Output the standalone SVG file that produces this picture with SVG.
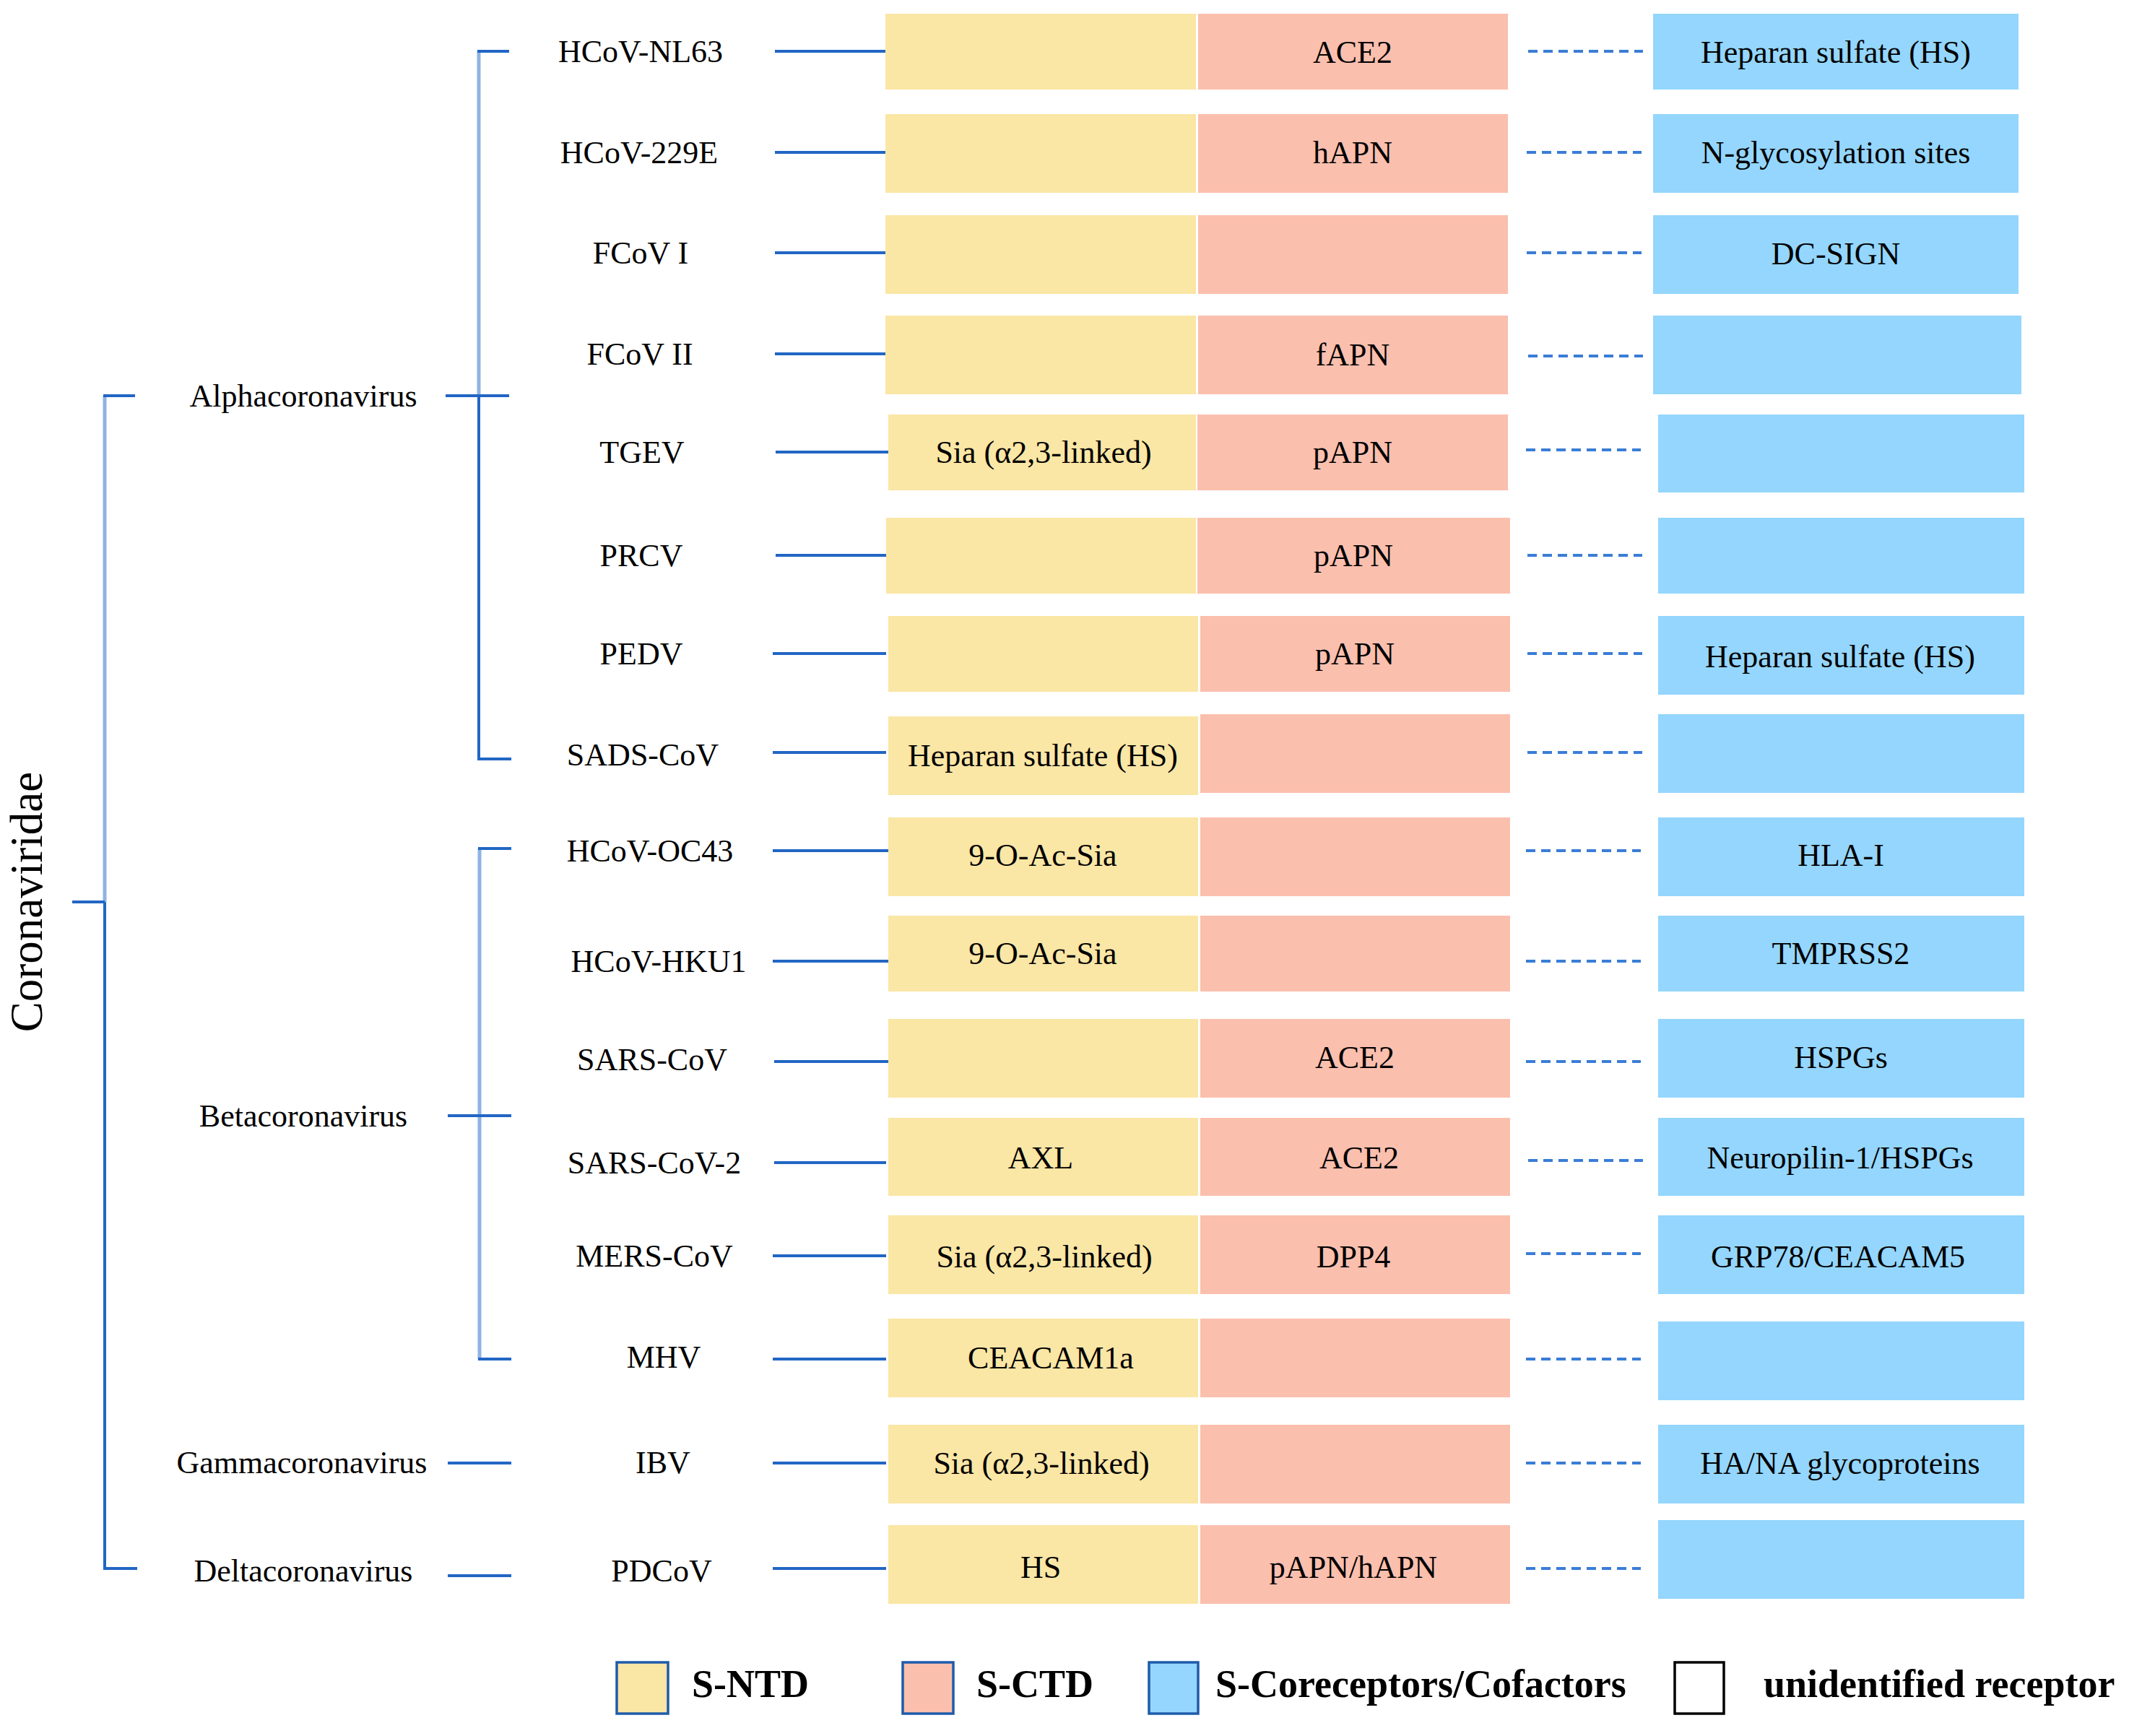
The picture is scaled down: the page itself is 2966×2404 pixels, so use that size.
<svg xmlns="http://www.w3.org/2000/svg" width="2966" height="2404" viewBox="0 0 2966 2404">
<style>
text{font-family:'Liberation Serif','Times New Roman',serif;fill:#000}
.lbl{font-size:44px;text-anchor:middle}
.leg{font-size:54px;font-weight:bold}
.ntd{fill:#FAE6A5}
.ctd{fill:#FBBFAE}
.co{fill:#94D6FD}
.ln{stroke:#2266C4;stroke-width:4;fill:none}
.lt{stroke:#8FB3E2;stroke-width:5;fill:none}
.dot{stroke:#3A7DD6;stroke-width:4;stroke-dasharray:13 8;fill:none}
</style>
<rect width="2966" height="2404" fill="#fff"/>

<g id="connectors">
  <!-- Coronaviridae bracket -->
  <line class="lt" x1="145" y1="548" x2="145" y2="1249"/>
  <line class="ln" x1="145" y1="1249" x2="145" y2="2172"/>
  <line class="ln" x1="100" y1="1249" x2="145" y2="1249"/>
  <line class="ln" x1="143" y1="548" x2="187" y2="548"/>
  <line class="ln" x1="143" y1="2172" x2="190" y2="2172"/>
  <!-- Alpha bracket -->
  <line class="lt" x1="663" y1="71" x2="663" y2="548"/>
  <line class="ln" x1="663" y1="548" x2="663" y2="1051"/>
  <line class="ln" x1="661" y1="71" x2="705" y2="71"/>
  <line class="ln" x1="617" y1="548" x2="705" y2="548"/>
  <line class="ln" x1="661" y1="1051" x2="708" y2="1051"/>
  <!-- Beta bracket -->
  <line class="lt" x1="664" y1="1175" x2="664" y2="1882"/>
  <line class="ln" x1="662" y1="1175" x2="708" y2="1175"/>
  <line class="ln" x1="620" y1="1545" x2="708" y2="1545"/>
  <line class="ln" x1="662" y1="1882" x2="708" y2="1882"/>
  <!-- Gamma / Delta -->
  <line class="ln" x1="620" y1="2026" x2="708" y2="2026"/>
  <line class="ln" x1="620" y1="2182" x2="708" y2="2182"/>
  <!-- species to domain lines -->
  <line class="ln" x1="1073" y1="71" x2="1226" y2="71"/>
  <line class="ln" x1="1073" y1="211" x2="1226" y2="211"/>
  <line class="ln" x1="1073" y1="350" x2="1226" y2="350"/>
  <line class="ln" x1="1073" y1="490" x2="1226" y2="490"/>
  <line class="ln" x1="1074" y1="626" x2="1230" y2="626"/>
  <line class="ln" x1="1074" y1="769" x2="1227" y2="769"/>
  <line class="ln" x1="1070" y1="905" x2="1227" y2="905"/>
  <line class="ln" x1="1070" y1="1042" x2="1227" y2="1042"/>
  <line class="ln" x1="1070" y1="1178" x2="1230" y2="1178"/>
  <line class="ln" x1="1070" y1="1331" x2="1230" y2="1331"/>
  <line class="ln" x1="1072" y1="1470" x2="1230" y2="1470"/>
  <line class="ln" x1="1072" y1="1610" x2="1227" y2="1610"/>
  <line class="ln" x1="1070" y1="1739" x2="1227" y2="1739"/>
  <line class="ln" x1="1070" y1="1882" x2="1227" y2="1882"/>
  <line class="ln" x1="1070" y1="2026" x2="1227" y2="2026"/>
  <line class="ln" x1="1070" y1="2172" x2="1227" y2="2172"/>
  <!-- dotted lines to coreceptors -->
  <line class="dot" x1="2116" y1="71" x2="2275" y2="71"/>
  <line class="dot" x1="2114" y1="211" x2="2273" y2="211"/>
  <line class="dot" x1="2114" y1="350" x2="2273" y2="350"/>
  <line class="dot" x1="2116" y1="493" x2="2275" y2="493"/>
  <line class="dot" x1="2113" y1="623" x2="2272" y2="623"/>
  <line class="dot" x1="2115" y1="769" x2="2274" y2="769"/>
  <line class="dot" x1="2115" y1="905" x2="2274" y2="905"/>
  <line class="dot" x1="2115" y1="1042" x2="2274" y2="1042"/>
  <line class="dot" x1="2113" y1="1178" x2="2272" y2="1178"/>
  <line class="dot" x1="2113" y1="1331" x2="2272" y2="1331"/>
  <line class="dot" x1="2113" y1="1470" x2="2272" y2="1470"/>
  <line class="dot" x1="2116" y1="1607" x2="2275" y2="1607"/>
  <line class="dot" x1="2113" y1="1736" x2="2272" y2="1736"/>
  <line class="dot" x1="2113" y1="1882" x2="2272" y2="1882"/>
  <line class="dot" x1="2113" y1="2026" x2="2272" y2="2026"/>
  <line class="dot" x1="2113" y1="2172" x2="2272" y2="2172"/>
</g>

<g id="family">
  <text transform="translate(58,1249) rotate(-90)" style="font-size:63px;text-anchor:middle">Coronaviridae</text>
</g>
<g id="genus-alpha"><text class="lbl" x="420" y="563">Alphacoronavirus</text></g>
<g id="genus-beta"><text class="lbl" x="420" y="1560">Betacoronavirus</text></g>
<g id="genus-gamma"><text class="lbl" x="418" y="2040">Gammacoronavirus</text></g>
<g id="genus-delta"><text class="lbl" x="420" y="2190">Deltacoronavirus</text></g>

<g id="row-HCoV-NL63">
  <text class="lbl" x="887" y="86">HCoV-NL63</text>
  <rect class="ntd" x="1226" y="19" width="430" height="105"/>
  <rect class="ctd" x="1659" y="19" width="429" height="105"/>
  <text class="lbl" x="1873" y="87">ACE2</text>
  <rect class="co" x="2289" y="19" width="506" height="105"/>
  <text class="lbl" x="2542" y="87">Heparan sulfate (HS)</text>
</g>
<g id="row-HCoV-229E">
  <text class="lbl" x="885" y="226">HCoV-229E</text>
  <rect class="ntd" x="1226" y="158" width="430" height="109"/>
  <rect class="ctd" x="1659" y="158" width="429" height="109"/>
  <text class="lbl" x="1873" y="226">hAPN</text>
  <rect class="co" x="2289" y="158" width="506" height="109"/>
  <text class="lbl" x="2542" y="226">N-glycosylation sites</text>
</g>
<g id="row-FCoV-I">
  <text class="lbl" x="887" y="365">FCoV I</text>
  <rect class="ntd" x="1226" y="298" width="430" height="109"/>
  <rect class="ctd" x="1659" y="298" width="429" height="109"/>
  <rect class="co" x="2289" y="298" width="506" height="109"/>
  <text class="lbl" x="2542" y="366">DC-SIGN</text>
</g>
<g id="row-FCoV-II">
  <text class="lbl" x="886" y="505">FCoV II</text>
  <rect class="ntd" x="1226" y="437" width="430" height="109"/>
  <rect class="ctd" x="1659" y="437" width="429" height="109"/>
  <text class="lbl" x="1873" y="506">fAPN</text>
  <rect class="co" x="2289" y="437" width="510" height="109"/>
</g>
<g id="row-TGEV">
  <text class="lbl" x="889" y="641">TGEV</text>
  <rect class="ntd" x="1230" y="574" width="426" height="105"/>
  <text class="lbl" x="1445" y="641">Sia (α2,3-linked)</text>
  <rect class="ctd" x="1658" y="574" width="430" height="105"/>
  <text class="lbl" x="1873" y="641">pAPN</text>
  <rect class="co" x="2296" y="574" width="507" height="108"/>
</g>
<g id="row-PRCV">
  <text class="lbl" x="888" y="784">PRCV</text>
  <rect class="ntd" x="1227" y="717" width="429" height="105"/>
  <rect class="ctd" x="1658" y="717" width="433" height="105"/>
  <text class="lbl" x="1874" y="784">pAPN</text>
  <rect class="co" x="2296" y="717" width="507" height="105"/>
</g>
<g id="row-PEDV">
  <text class="lbl" x="888" y="920">PEDV</text>
  <rect class="ntd" x="1230" y="853" width="429" height="105"/>
  <rect class="ctd" x="1662" y="853" width="429" height="105"/>
  <text class="lbl" x="1876" y="920">pAPN</text>
  <rect class="co" x="2296" y="853" width="507" height="109"/>
  <text class="lbl" x="2548" y="924">Heparan sulfate (HS)</text>
</g>
<g id="row-SADS-CoV">
  <text class="lbl" x="890" y="1060">SADS-CoV</text>
  <rect class="ntd" x="1230" y="992" width="429" height="109"/>
  <text class="lbl" x="1444" y="1061">Heparan sulfate (HS)</text>
  <rect class="ctd" x="1662" y="989" width="429" height="109"/>
  <rect class="co" x="2296" y="989" width="507" height="109"/>
</g>
<g id="row-HCoV-OC43">
  <text class="lbl" x="900" y="1193">HCoV-OC43</text>
  <rect class="ntd" x="1230" y="1132" width="429" height="109"/>
  <text class="lbl" x="1444" y="1199">9-O-Ac-Sia</text>
  <rect class="ctd" x="1662" y="1132" width="429" height="109"/>
  <rect class="co" x="2296" y="1132" width="507" height="109"/>
  <text class="lbl" x="2549" y="1199">HLA-I</text>
</g>
<g id="row-HCoV-HKU1">
  <text class="lbl" x="912" y="1346">HCoV-HKU1</text>
  <rect class="ntd" x="1230" y="1268" width="429" height="105"/>
  <text class="lbl" x="1444" y="1335">9-O-Ac-Sia</text>
  <rect class="ctd" x="1662" y="1268" width="429" height="105"/>
  <rect class="co" x="2296" y="1268" width="507" height="105"/>
  <text class="lbl" x="2549" y="1335">TMPRSS2</text>
</g>
<g id="row-SARS-CoV">
  <text class="lbl" x="903" y="1482">SARS-CoV</text>
  <rect class="ntd" x="1230" y="1411" width="429" height="109"/>
  <rect class="ctd" x="1662" y="1411" width="429" height="109"/>
  <text class="lbl" x="1876" y="1479">ACE2</text>
  <rect class="co" x="2296" y="1411" width="507" height="109"/>
  <text class="lbl" x="2549" y="1479">HSPGs</text>
</g>
<g id="row-SARS-CoV-2">
  <text class="lbl" x="906" y="1625">SARS-CoV-2</text>
  <rect class="ntd" x="1230" y="1548" width="429" height="108"/>
  <text class="lbl" x="1441" y="1618">AXL</text>
  <rect class="ctd" x="1662" y="1548" width="429" height="108"/>
  <text class="lbl" x="1882" y="1618">ACE2</text>
  <rect class="co" x="2296" y="1548" width="507" height="108"/>
  <text class="lbl" x="2548" y="1618">Neuropilin-1/HSPGs</text>
</g>
<g id="row-MERS-CoV">
  <text class="lbl" x="906" y="1754">MERS-CoV</text>
  <rect class="ntd" x="1230" y="1683" width="429" height="109"/>
  <text class="lbl" x="1446" y="1755">Sia (α2,3-linked)</text>
  <rect class="ctd" x="1662" y="1683" width="429" height="109"/>
  <text class="lbl" x="1874" y="1755">DPP4</text>
  <rect class="co" x="2296" y="1683" width="507" height="109"/>
  <text class="lbl" x="2545" y="1755">GRP78/CEACAM5</text>
</g>
<g id="row-MHV">
  <text class="lbl" x="919" y="1894">MHV</text>
  <rect class="ntd" x="1230" y="1826" width="429" height="109"/>
  <text class="lbl" x="1455" y="1895">CEACAM1a</text>
  <rect class="ctd" x="1662" y="1826" width="429" height="109"/>
  <rect class="co" x="2296" y="1830" width="507" height="109"/>
</g>
<g id="row-IBV">
  <text class="lbl" x="918" y="2040">IBV</text>
  <rect class="ntd" x="1230" y="1973" width="429" height="109"/>
  <text class="lbl" x="1442" y="2041">Sia (α2,3-linked)</text>
  <rect class="ctd" x="1662" y="1973" width="429" height="109"/>
  <rect class="co" x="2296" y="1973" width="507" height="109"/>
  <text class="lbl" x="2548" y="2041">HA/NA glycoproteins</text>
</g>
<g id="row-PDCoV">
  <text class="lbl" x="916" y="2190">PDCoV</text>
  <rect class="ntd" x="1230" y="2112" width="429" height="109"/>
  <text class="lbl" x="1441" y="2185">HS</text>
  <rect class="ctd" x="1662" y="2112" width="429" height="109"/>
  <text class="lbl" x="1874" y="2185">pAPN/hAPN</text>
  <rect class="co" x="2296" y="2105" width="507" height="109"/>
</g>

<g id="legend">
  <rect class="ntd" x="854" y="2302" width="71" height="71" stroke="#1F5BAA" stroke-width="3.5"/>
  <text class="leg" x="958" y="2350">S-NTD</text>
  <rect class="ctd" x="1250" y="2302" width="70" height="71" stroke="#1F5BAA" stroke-width="3.5"/>
  <text class="leg" x="1352" y="2350">S-CTD</text>
  <rect class="co" x="1591" y="2302" width="68" height="71" stroke="#1F5BAA" stroke-width="3.5"/>
  <text class="leg" x="1683" y="2350">S-Coreceptors/Cofactors</text>
  <rect x="2319" y="2302" width="68" height="71" fill="#fff" stroke="#000" stroke-width="3.5"/>
  <text class="leg" x="2442" y="2350">unidentified receptor</text>
</g>
</svg>
